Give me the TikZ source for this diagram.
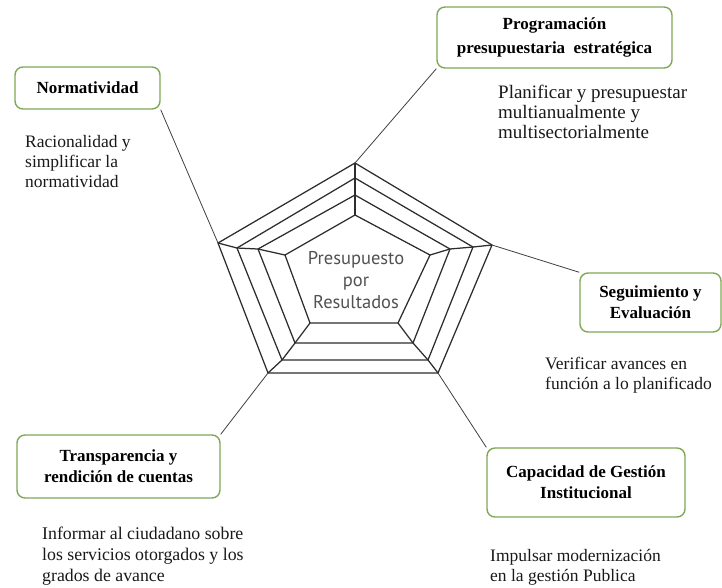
\documentclass[tikz,border=0pt]{standalone}
\usepackage{fontspec}
\setmainfont{Liberation Serif}
\newfontfamily\ptsans{PT Sans}
\definecolor{boxgreen}{RGB}{128,168,88}
\definecolor{webgray}{RGB}{45,45,45}
\begin{document}
\begin{tikzpicture}[x=1pt,y=-1pt,
  box/.style={draw=boxgreen, line width=1.4pt, rounded corners=8pt, fill=white,
    align=center, inner sep=0pt, font=\fontsize{17}{21}\selectfont\bfseries},
  desc/.style={anchor=north west, align=left, inner sep=0pt,
    font=\fontsize{17.5}{20}\selectfont, text=black!90},
  web/.style={draw=webgray, line width=1.25pt, line join=round},
  link/.style={draw=black!75, line width=0.8pt}]
\useasboundingbox (0,0) rectangle (722,587);
\fill[white] (0,0) rectangle (722,587);
% pentagon layers
\coordinate (T1) at (355,163); \coordinate (L1) at (218,243); \coordinate (R1) at (492,245);
\coordinate (BL1) at (268,373); \coordinate (BR1) at (438,373);
\coordinate (T2) at (355,178); \coordinate (L2) at (237,248); \coordinate (R2) at (473,247);
\coordinate (BL2) at (282,360); \coordinate (BR2) at (428,360);
\coordinate (T3) at (355,195); \coordinate (L3) at (258,249); \coordinate (R3) at (450,249);
\coordinate (BL3) at (295,343); \coordinate (BR3) at (413,343);
\coordinate (T4) at (355,215); \coordinate (L4) at (285,255); \coordinate (R4) at (430,255);
\coordinate (BL4) at (310,323); \coordinate (BR4) at (398,323);
\foreach \i in {1,2,3,4}{
  \draw[web] (T\i) -- (R\i) -- (BR\i) -- (BL\i) -- (L\i) -- cycle;
}
\foreach \v in {T,L,R,BL,BR}{
  \draw[web] (\v1) -- (\v2) -- (\v3) -- (\v4);
}
\node[font=\ptsans\fontsize{18.5}{22}\selectfont, text=black!68, align=center] (center) at (356,280)
  {Presupuesto\\por\\Resultados};
% boxes
\node[box, minimum width=145pt, minimum height=42pt] (norm) at (87.5,88) {Normatividad};
\node[box, minimum width=235pt, minimum height=61pt, font=\fontsize{17}{24}\selectfont\bfseries] (prog) at (554.5,37.5)
  {Programación\\presupuestaria\ \ estratégica};
\node[box, minimum width=141pt, minimum height=59pt] (seg) at (650.5,302.5)
  {Seguimiento y\\Evaluación};
\node[box, minimum width=203pt, minimum height=63pt] (trans) at (118.5,466.5)
  {Transparencia y\\rendición de cuentas};
\node[box, minimum width=198pt, minimum height=69pt] (cap) at (586,482.5)
  {Capacidad de Gestión\\Institucional};
% connectors
\draw[link] (norm.south east) -- (L1);
\draw[link] (prog.south west) -- (T1);
\draw[link] (seg.north west) -- (R1);
\draw[link] (cap.north west) -- (BR1);
\draw[link] (trans.north east) -- (BL1);
% descriptions
\node[desc] (dnorm) at (25,135) {Racionalidad y\\simplificar la\\normatividad};
\node[desc, font=\fontsize{19}{20}\selectfont] (dprog) at (498,85) {Planificar y presupuestar\\multianualmente y\\multisectorialmente};
\node[desc] (dseg) at (545,357) {Verificar avances en\\función a lo planificado};
\node[desc, font=\fontsize{17.8}{21}\selectfont] (dtrans) at (42,527) {Informar al ciudadano sobre\\los servicios otorgados y los\\grados de avance};
\node[desc] (dcap) at (490,549) {Impulsar modernización\\en la gestión Publica};
\end{tikzpicture}
\end{document}
